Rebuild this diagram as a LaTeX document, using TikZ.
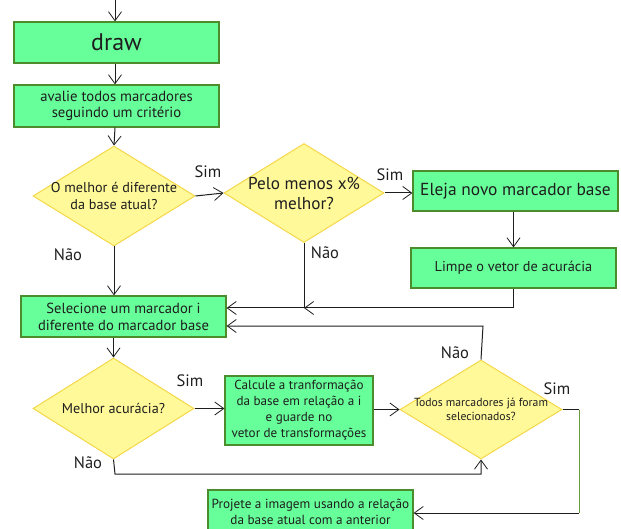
\documentclass[tikz,border=0pt]{standalone}
\usepackage{fontspec}
\setmainfont{PT Sans}
\usepackage{tikz}
\usetikzlibrary{shapes.geometric,arrows.meta}
\definecolor{boxfill}{HTML}{66FF99}
\definecolor{boxline}{HTML}{4C8C2C}
\definecolor{askfill}{HTML}{FFF999}
\definecolor{askline}{HTML}{F5D74A}
\definecolor{ink}{HTML}{1E1E1E}
\definecolor{olive}{HTML}{6A9A3A}
\tikzset{
  stepbox/.style={draw=boxline, fill=boxfill, line width=1.2pt, minimum width=205pt, minimum height=41pt, inner sep=0pt, align=center, text=ink},
  ask/.style={diamond, draw=askline, fill=askfill, line width=1pt, minimum width=162pt, minimum height=100pt, inner sep=0pt},
  asktxt/.style={align=center, text=ink, inner sep=0pt},
  flow/.style={draw=ink, line width=1pt, -{Straight Barb[length=9pt,width=13pt,line width=0.8pt]}},
  wire/.style={draw=ink, line width=1pt},
  lab/.style={text=ink, font=\fontsize{16.5}{19}\selectfont},
}

\begin{document}
\begin{tikzpicture}[x=1pt,y=-1pt]
  \useasboundingbox (0,0) rectangle (621,529);
  \clip (0,0) rectangle (621,529);
  \coordinate (top) at (115,0);
  \coordinate (j1) at (304,308);
  \coordinate (j2) at (483,326);
  \coordinate (j3) at (115,474);
  \coordinate (j4) at (579,513);

  \node[stepbox,font=\fontsize{24}{28}\selectfont] (draw) at (116.5,42.5) {draw};
  \node[stepbox,minimum height=42pt,font=\fontsize{14.7}{16.5}\selectfont] (aval) at (116.5,106)
    {avalie todos marcadores\\seguindo um critério};

  \node[ask] (d1) at (114,196) {};
  \node[asktxt,font=\fontsize{14.2}{17}\selectfont] (d1t) at (d1) {O melhor é diferente\\da base atual?};
  \node[ask,minimum width=160pt,minimum height=99pt] (d2) at (304,193) {};
  \node[asktxt,font=\fontsize{17.2}{20}\selectfont] (d2t) at (d2) {Pelo menos x\%\\melhor?};

  \node[stepbox,minimum height=40pt,font=\fontsize{17.4}{20}\selectfont] (elej) at (515.5,191) {Eleja novo marcador base};
  \node[stepbox,minimum height=40pt,font=\fontsize{14.3}{16}\selectfont] (limp) at (513.5,268) {Limpe o vetor de acurácia};
  \node[stepbox,font=\fontsize{14.6}{17}\selectfont] (sel) at (123.5,316.5)
    {Selecione um marcador i\\diferente do marcador base};

  \node[ask,minimum width=161pt,minimum height=101pt] (d3) at (113.5,408.5) {};
  \node[asktxt,font=\fontsize{14.2}{16}\selectfont] (d3t) at (d3) {Melhor acurácia?};
  \node[stepbox,minimum width=148pt,minimum height=69pt,font=\fontsize{13.1}{16}\selectfont] (calc) at (299,410.5)
    {Calcule a tranformação\\da base em relação a i\\e guarde no\\vetor de transformações};
  \node[ask,minimum height=99pt] (d4) at (481,409.5) {};
  \node[asktxt,font=\fontsize{11.7}{14.7}\selectfont] (d4t) at (d4) {Todos marcadores já foram\\selecionados?};
  \node[stepbox,minimum height=44pt,font=\fontsize{13.2}{16}\selectfont] (proj) at (310.5,512)
    {Projete a imagem usando a relação\\da base atual com a anterior};

  % ligacoes
  \draw[flow] (top) -- (draw.north -| top);
  \draw[flow] (draw.south -| top) -- (aval.north -| top);
  \draw[flow] (aval.south -| top) -- (d1.north);
  \draw[flow] (d1.east) -- (d2.west);
  \draw[flow] (d2.east) -- (elej.west |- d2.east);
  \draw[flow] (elej.south -| limp) -- (limp.north);
  \draw[flow] (limp.south) |- (j1);
  \draw[flow] (d2.south) -- (j1) -- (sel.east |- j1);
  \draw[flow] (d1.south) -- (sel.north -| d1.south);
  \draw[flow] (d4.north) -- (j2) -- (sel.east |- j2);
  \draw[flow] (sel.south -| d3.north) -- (d3.north);
  \draw[flow] (d3.east) -- (calc.west |- d3.east);
  \draw[flow] (calc.east |- d4.west) -- (d4.west);
  \draw[flow] (d3.south) -- (j3) -| (d4.south);
  \draw[wire] (d4.east) -- (d4.east -| j4);
  \draw[wire,draw=olive] (d4.east -| j4) -- (j4);  % trecho verde
  \draw[flow] (j4) -- (proj.east |- j4);

  \node[lab] (sim1) at (208,172) {Sim};
  \node[lab] (sim2) at (390,175) {Sim};
  \node[lab] (nao1) at (68,255) {Não};
  \node[lab] (nao2) at (325,253) {Não};
  \node[lab] (nao4) at (455,353) {Não};
  \node[lab] (sim3) at (190,381) {Sim};
  \node[lab] (nao3) at (88,463) {Não};
  \node[lab] (sim4) at (557,389) {Sim};
\end{tikzpicture}
\end{document}
